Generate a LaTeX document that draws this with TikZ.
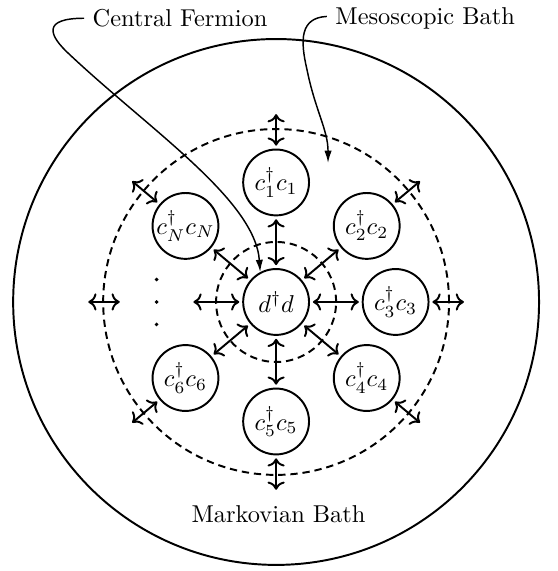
\documentclass[tikz,border=0pt]{standalone}
\usepackage{amsmath,amssymb}
\usepackage{tikz}
\usetikzlibrary{arrows.meta,calc}

\begin{document}
\begin{tikzpicture}[
    site/.style={circle, draw, thick, minimum size=27pt, inner sep=0pt},
    bath/.style={thick, dash pattern=on 3pt off 2pt},
    hop/.style={{To}-{To}, thick, shorten <=1.2pt, shorten >=1.2pt},
    pointer/.style={-{Latex[length=5pt,width=3pt]}, semithick},
    tag/.style={anchor=base, text depth=0pt}
]
\useasboundingbox (-113.2pt,-110.3pt) rectangle (115.2pt,123.8pt);

% baths
\draw[thick] (0,0) circle (107.8pt);
\draw[bath] (0,0) circle (70.9pt);
\draw[bath] (0,0) circle (24.6pt);

% central fermion and the mesoscopic sites
\node[site] (d) at (0,0) {$d^\dagger d$};
\node[site] (c1) at (90:49pt) {$c_1^\dagger c_1$};
\node[site] (c2) at (40:48.5pt) {$c_2^\dagger c_2$};
\node[site] (c3) at (0:49pt) {$c_3^\dagger c_3$};
\node[site] (c4) at (-40:48.5pt) {$c_4^\dagger c_4$};
\node[site] (c5) at (-90:49pt) {$c_5^\dagger c_5$};
\node[site] (c6) at (-140:48.5pt) {$c_6^\dagger c_6$};
\node[site, draw=none] (cdots) at (180:49pt) {};
\node[site] (cN) at (140:48.5pt) {$c_N^\dagger c_N$};
\foreach \dy in {-9.2pt,0pt,9.2pt}
    \fill ([yshift=\dy]cdots.center) circle (0.8pt);

% couplings to the centre and to the Markovian bath
\foreach \a/\n in {90/1,40/2,0/3,-40/4,-90/5,-140/6,180/dots,140/N}
    \coordinate (o\n) at (\a:77pt);
\foreach \n in {1,2,3,4,5,6,dots,N} {
    \draw[hop] (d) -- (c\n);
    \draw[hop, shorten >=0pt] (c\n) -- (o\n);
}

% labels
\node[tag] (fermion) at (-39.4pt,112.8pt) {Central Fermion};
\node[tag] (mesolabel) at (61.1pt,113.6pt) {Mesoscopic Bath};
\node[tag] (markovlabel) at (1pt,-90.5pt) {Markovian Bath};

\coordinate (mesotip) at (21.3pt,57pt);
\draw[pointer] (fermion.west) .. controls (-95.9pt,116.3pt) and (-93.5pt,109.5pt) .. (-84.5pt,101.3pt)
    .. controls (-51.7pt,70.5pt) and (-8.6pt,41.8pt) .. (d.118);
\draw[pointer] (mesolabel.west) .. controls (9.8pt,116.5pt) and (9.8pt,107.4pt) .. (12.7pt,95.1pt)
    .. controls (16pt,78.7pt) and (21.3pt,70.5pt) .. (mesotip);

\end{tikzpicture}
\end{document}
